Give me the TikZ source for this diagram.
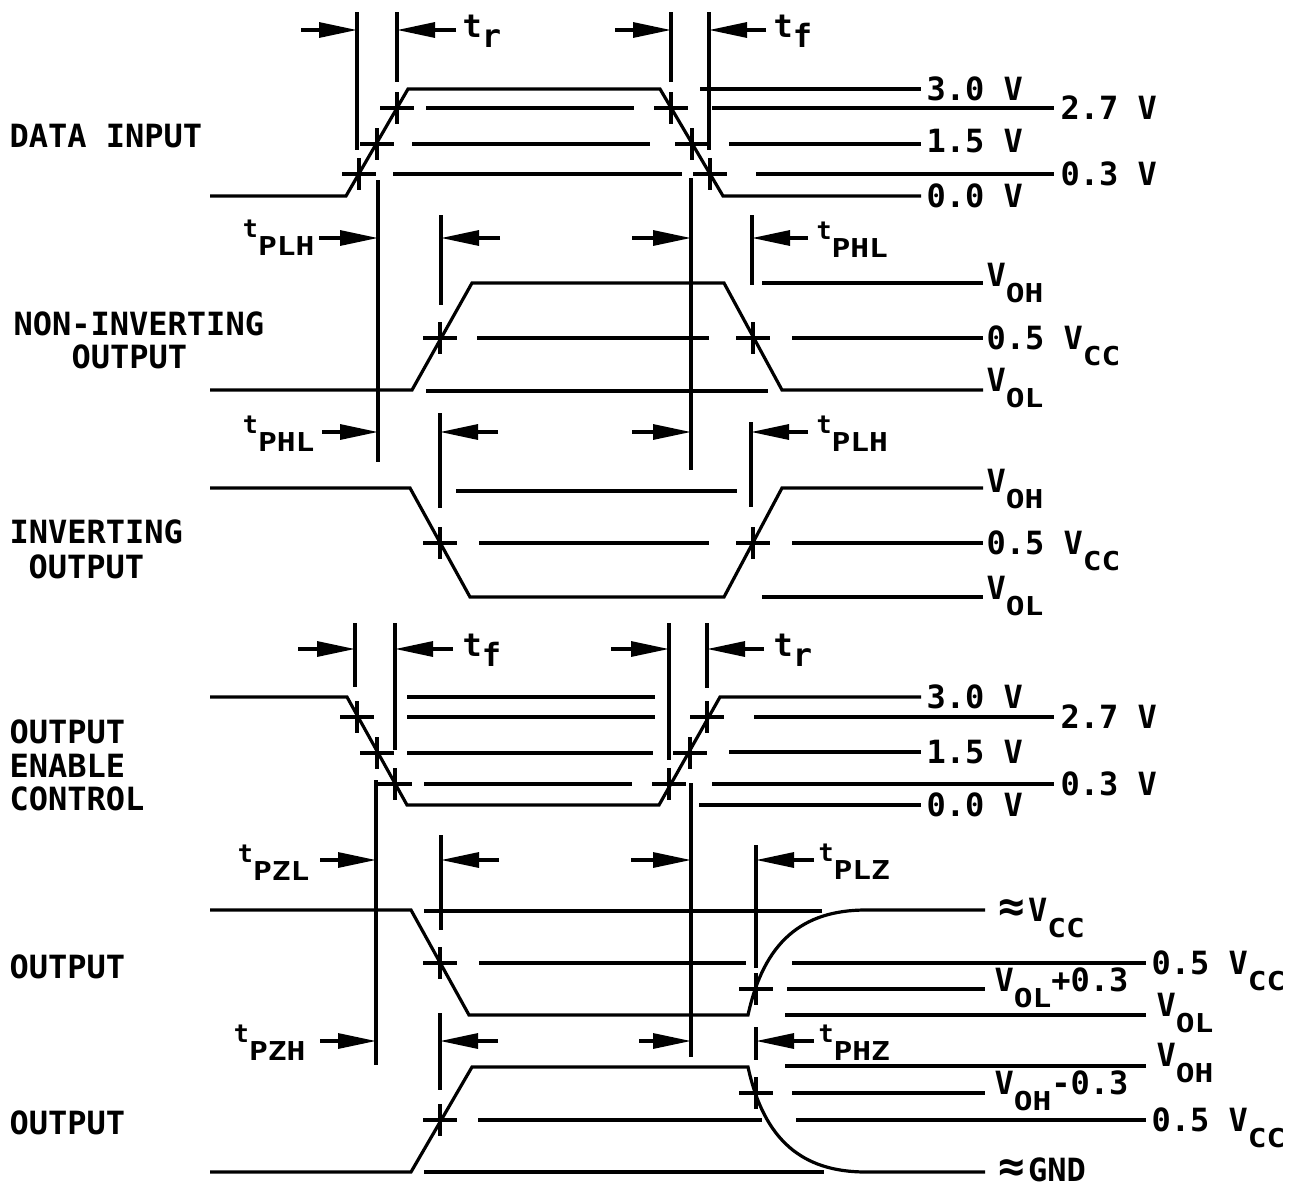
\documentclass[tikz,border=0pt]{standalone}
\usepackage{fontspec}
\setmainfont{DejaVu Sans Mono}
\usepackage{graphicx}
\usetikzlibrary{arrows.meta}
\newcommand{\subtxt}[1]{\raisebox{-16pt}{\scalebox{1.2}[1]{\fontsize{26}{26}\selectfont #1}}}
\newcommand{\tprop}[1]{{\fontsize{25}{25}\selectfont t}\raisebox{-18pt}{\scalebox{1.2}[1]{\fontsize{26}{26}\selectfont #1}}}
\newcommand{\tedge}[1]{t\raisebox{-10pt}{#1}}
\newcommand{\apx}{{\fontsize{44}{44}\selectfont ≈}\kern3pt}

\begin{document}
\begin{tikzpicture}[x=1pt,y=-1pt,line width=3.2pt,
    dimarrow/.style={-{Triangle[length=38pt,width=15pt]}},
    lbl/.style={inner sep=0pt,font=\fontsize{32}{36}\selectfont\bfseries}]
  \useasboundingbox (0,0) rectangle (1304,1189);

  %signals
  \draw (210,196) -- (346,196) -- (408,89) -- (660,89) -- (723,196) -- (921,196);
  \draw (210,390) -- (412,390) -- (472,283) -- (724,283) -- (782,390) -- (983,390);
  \draw (210,488) -- (410,488) -- (470,597) -- (724,597) -- (782,488) -- (983,488);
  \draw (210,697) -- (347,697) -- (407,805) -- (659,805) -- (720,697) -- (921,697);
  \draw (210,910) -- (411,910) -- (469,1015) -- (748,1015)
        .. controls (764,942) and (802,910) .. (866,910) -- (985,910);
  \draw (210,1172) -- (411,1172) -- (472,1067) -- (748,1067)
        .. controls (764,1140) and (802,1172) .. (866,1172) -- (985,1172);

  %levels
  \draw (700,89) -- (921,89);
  \draw (426,108) -- (634,108) (712,108) -- (1054,108);
  \draw (412,144) -- (650,144) (729,144) -- (921,144);
  \draw (393,174) -- (682,174) (756,174) -- (1054,174);
  \draw (762,283) -- (983,283);
  \draw (477,338) -- (709,338) (792,338) -- (983,338);
  \draw (426,391) -- (768,391);
  \draw (456,491) -- (737,491);
  \draw (479,543) -- (709,543) (792,543) -- (983,543);
  \draw (762,597) -- (983,597);
  \draw (407,697) -- (655,697);
  \draw (407,717) -- (655,717) (754,717) -- (1054,717);
  \draw (407,753) -- (653,753) (729,752) -- (921,752);
  \draw (424,784) -- (632,784) (712,784) -- (1054,784);
  \draw (699,805) -- (921,805);
  \draw (424,911) -- (822,911);
  \draw (479,963) -- (746,963) (792,963) -- (1146,963);
  \draw (787,989) -- (985,989);
  \draw (785,1015) -- (1146,1015);
  \draw (785,1066) -- (1146,1066);
  \draw (792,1093) -- (985,1093);
  \draw (478,1120) -- (762,1120) (796,1120) -- (1146,1120);
  \draw (424,1172) -- (824,1172);

  %crossing marks
  \foreach \x/\y in {359/174,377/144,397/108,671/108,692/144,710/174,
                     440/338,753/338,440/543,753/543,
                     357/717,377/753,395/784,669/784,690/753,707/717,
                     440/963,756/989,440/1120,756/1093}
    \draw (\x-17,\y) -- (\x+17,\y) (\x,\y-16) -- (\x,\y+16);

  %extension lines
  \draw (357,12) -- (357,150) (397,12) -- (397,82)
        (671,12) -- (671,82) (709,12) -- (709,150);
  \draw (378,180) -- (378,462) (691,178) -- (691,470);
  \draw (441,215) -- (441,305) (752,215) -- (752,285);
  \draw (440,413) -- (440,508) (751,422) -- (751,507);
  \draw (355,623) -- (355,687) (395,623) -- (395,750)
        (669,623) -- (669,760) (707,623) -- (707,688);
  \draw (376,780) -- (376,1065) (691,783) -- (691,1057);
  \draw (441,835) -- (441,930) (756,845) -- (756,968);
  \draw (440,1013) -- (440,1090) (756,1027) -- (756,1060);

  %arrows
  \foreach \a/\b/\y in {301/357/30,456/397/30,615/671/30,766/709/30,
                        319/378/238,500/441/238,632/691/238,808/752/238,
                        322/378/432,498/440/432,632/691/432,808/751/432,
                        298/355/649,453/395/649,611/669/649,764/707/649,
                        320/376/860,499/441/860,631/691/860,814/756/860,
                        320/376/1041,498/440/1041,639/691/1041,814/756/1041}
    \draw[dimarrow] (\a,\y) -- (\b,\y);

  %signal names
  \node (datain) [lbl,anchor=base west] at (8,147) {DATA INPUT};
  \node (noninv) [lbl,anchor=base west] at (12,335) {NON-INVERTING};
  \node (noninvb) [lbl,anchor=base west] at (70,368) {OUTPUT};
  \node (inv) [lbl,anchor=base west] at (8,543) {INVERTING};
  \node (invb) [lbl,anchor=base west] at (27,578) {OUTPUT};
  \node (oec) [lbl,anchor=base west] at (8,743) {OUTPUT};
  \node (oecb) [lbl,anchor=base west] at (8,777) {ENABLE};
  \node (oecc) [lbl,anchor=base west] at (8,810) {CONTROL};
  \node (outl) [lbl,anchor=base west] at (8,978) {OUTPUT};
  \node (outh) [lbl,anchor=base west] at (8,1134) {OUTPUT};

  %timing names
  \node (tra) [lbl,anchor=base west] at (461,37) {\tedge{r}};
  \node (tfa) [lbl,anchor=base west] at (772,37) {\tedge{f}};
  \node (tplha) [lbl,anchor=base east] at (316,237) {\tprop{PLH}};
  \node (tphla) [lbl,anchor=base west] at (815,239) {\tprop{PHL}};
  \node (tphlb) [lbl,anchor=base east] at (316,433) {\tprop{PHL}};
  \node (tplhb) [lbl,anchor=base west] at (815,433) {\tprop{PLH}};
  \node (tfb) [lbl,anchor=base west] at (461,656) {\tedge{f}};
  \node (trb) [lbl,anchor=base west] at (772,656) {\tedge{r}};
  \node (tpzl) [lbl,anchor=base east] at (311,862) {\tprop{PZL}};
  \node (tplz) [lbl,anchor=base west] at (817,861) {\tprop{PLZ}};
  \node (tpzh) [lbl,anchor=base east] at (307,1042) {\tprop{PZH}};
  \node (tphz) [lbl,anchor=base west] at (817,1042) {\tprop{PHZ}};

  %level names
  \node (va30) [lbl,anchor=base west] at (925,100) {3.0 V};
  \node (va27) [lbl,anchor=base west] at (1059,119) {2.7 V};
  \node (va15) [lbl,anchor=base west] at (925,152) {1.5 V};
  \node (va03) [lbl,anchor=base west] at (1059,185) {0.3 V};
  \node (va00) [lbl,anchor=base west] at (925,207) {0.0 V};
  \node (vnoh) [lbl,anchor=base west] at (985,286) {V\subtxt{OH}};
  \node (vnmid) [lbl,anchor=base west] at (985,349) {0.5 V\subtxt{CC}};
  \node (vnol) [lbl,anchor=base west] at (985,391) {V\subtxt{OL}};
  \node (vioh) [lbl,anchor=base west] at (985,492) {V\subtxt{OH}};
  \node (vimid) [lbl,anchor=base west] at (985,554) {0.5 V\subtxt{CC}};
  \node (viol) [lbl,anchor=base west] at (985,599) {V\subtxt{OL}};
  \node (ve30) [lbl,anchor=base west] at (925,708) {3.0 V};
  \node (ve27) [lbl,anchor=base west] at (1059,728) {2.7 V};
  \node (ve15) [lbl,anchor=base west] at (925,763) {1.5 V};
  \node (ve03) [lbl,anchor=base west] at (1059,795) {0.3 V};
  \node (ve00) [lbl,anchor=base west] at (925,816) {0.0 V};
  \node (vlcc) [lbl,anchor=base west] at (997,921) {\apx V\subtxt{CC}};
  \node (vlmid) [lbl,anchor=base west] at (1150,974) {0.5 V\subtxt{CC}};
  \node (vlolp) [lbl,anchor=base west] at (993,991) {V\subtxt{OL}+0.3};
  \node (vlol) [lbl,anchor=base west] at (1155,1016) {V\subtxt{OL}};
  \node (vhoh) [lbl,anchor=base west] at (1155,1066) {V\subtxt{OH}};
  \node (vhohm) [lbl,anchor=base west] at (993,1094) {V\subtxt{OH}-0.3};
  \node (vhmid) [lbl,anchor=base west] at (1150,1131) {0.5 V\subtxt{CC}};
  \node (vhgnd) [lbl,anchor=base west] at (997,1181) {\apx GND};
\end{tikzpicture}
\end{document}
